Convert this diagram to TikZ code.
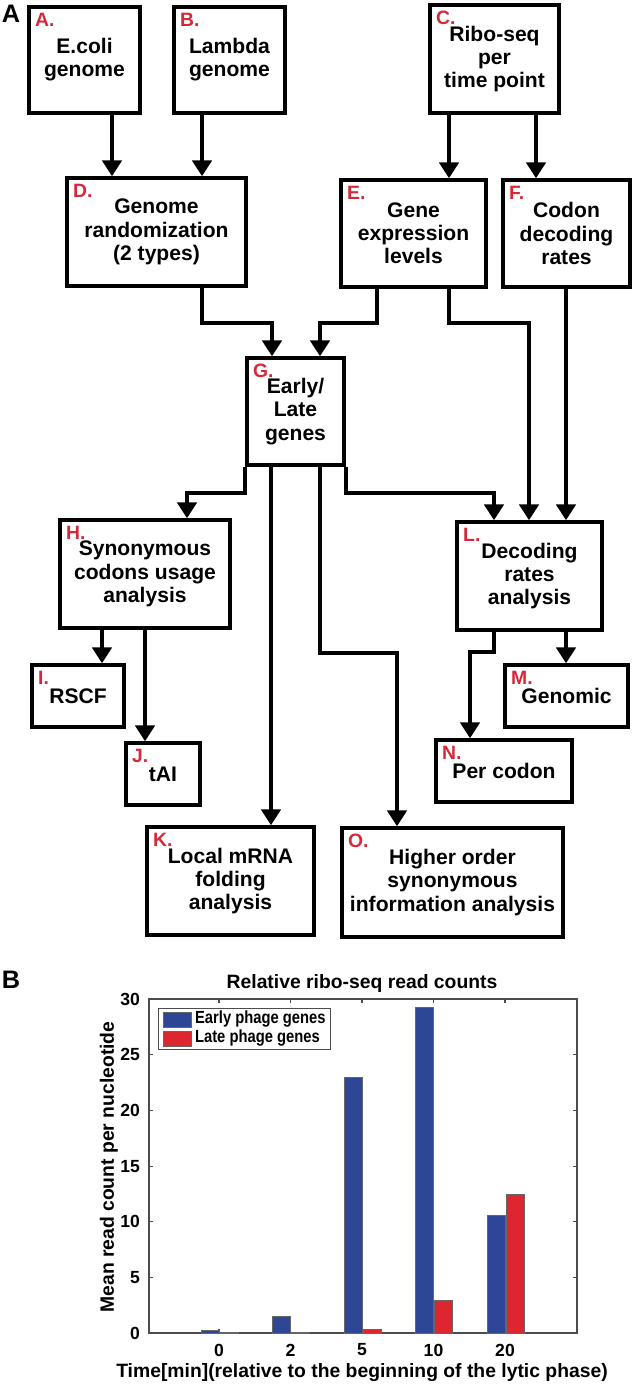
\documentclass[tikz,border=0pt]{standalone}
\usepackage{fontspec}
\setmainfont{Liberation Sans}
\newfontfamily\narrowfont{Liberation Sans}[FakeStretch=0.84]
\usepackage{xcolor}
\usetikzlibrary{arrows.meta, positioning, calc}
\definecolor{earlyblue}{RGB}{46,70,150}
\definecolor{latered}{RGB}{222,38,48}
\definecolor{tagred}{RGB}{214,40,57}
\begin{document}
\begin{tikzpicture}[
    x=0.02cm, y=-0.02cm,
    font=\fontsize{10}{13}\selectfont\bfseries,
    box/.style={draw, line width=2pt, inner sep=0pt, align=center,
      font=\fontsize{12}{13.2}\selectfont\bfseries},
    tag/.style={text=tagred, anchor=north west, xshift=1pt, yshift=-1pt,
      font=\fontsize{11}{13}\selectfont\bfseries},
    arr/.style={line width=2pt, -{Triangle[length=9pt, width=11pt]}}
  ]
  \useasboundingbox (0,0) rectangle (633,1385);

  % Panel A
  \node at (11,14) {\Large A};
  \node[box, minimum width=111*0.02cm, minimum height=106*0.02cm, label={[tag]north west:A.}] (A) at (84.5,60) {E.coli\\genome};
  \node[box, minimum width=111*0.02cm, minimum height=106*0.02cm, label={[tag]north west:B.}] (B) at (229.5,60) {Lambda\\genome};
  \node[box, minimum width=129*0.02cm, minimum height=108*0.02cm, label={[tag]north west:C.}] (C) at (494.5,59) {Ribo-seq\\per\\time point};
  \node[box, minimum width=179*0.02cm, minimum height=108*0.02cm, label={[tag]north west:D.}] (D) at (156.5,232) {Genome\\randomization\\(2 types)};
  \node[box, minimum width=145*0.02cm, minimum height=107*0.02cm, label={[tag]north west:E.}] (E) at (413.5,233.5) {Gene\\expression\\levels};
  \node[box, minimum width=127*0.02cm, minimum height=107*0.02cm, label={[tag]north west:F.}] (F) at (566.5,233.5) {Codon\\decoding\\rates};
  \node[box, minimum width=97*0.02cm, minimum height=107*0.02cm, label={[tag]north west:G.}] (G) at (295.5,411.5) {Early/\\Late\\genes};
  \node[box, minimum width=170*0.02cm, minimum height=108*0.02cm, label={[tag]north west:H.}] (H) at (145,574) {Synonymous\\codons usage\\analysis};
  \node[box, minimum width=145*0.02cm, minimum height=108*0.02cm, label={[tag]north west:L.}] (L) at (529.5,576) {Decoding\\rates\\analysis};
  \node[box, minimum width=92*0.02cm, minimum height=62*0.02cm, label={[tag]north west:I.}] (I) at (78,696) {RSCF};
  \node[box, minimum width=74*0.02cm, minimum height=62*0.02cm, label={[tag]north west:J.}] (J) at (163,774) {tAI};
  \node[box, minimum width=123*0.02cm, minimum height=62*0.02cm, label={[tag]north west:M.}] (M) at (566.5,696) {Genomic};
  \node[box, minimum width=136*0.02cm, minimum height=62*0.02cm, label={[tag]north west:N.}] (N) at (504,771) {Per codon};
  \node[box, minimum width=167*0.02cm, minimum height=108*0.02cm, label={[tag]north west:K.}] (K) at (230.5,881) {Local mRNA\\folding\\analysis};
  \node[box, minimum width=221*0.02cm, minimum height=109*0.02cm, label={[tag]north west:O.}] (O) at (452.5,882.5) {Higher order\\synonymous\\information analysis};

  % routing columns and rows
  \coordinate (cAD) at (112,0);  \coordinate (cBD) at (202,0);
  \coordinate (cCE) at (449,0);  \coordinate (cCF) at (536,0);
  \coordinate (cDG) at (272,0);  \coordinate (cEG) at (320,0);
  \coordinate (cEo) at (377,0);  \coordinate (cEL) at (529,0);
  \coordinate (cFL) at (566,0);  \coordinate (cGH) at (187,0);
  \coordinate (cGL) at (494,0);  \coordinate (cGK) at (271,0);
  \coordinate (cGO) at (397,0);  \coordinate (cHI) at (102,0);
  \coordinate (cHJ) at (145,0);  \coordinate (cLN) at (470,0);
  \coordinate (rDG) at (0,323);  \coordinate (rGH) at (0,493);
  \coordinate (rGO) at (0,653);  \coordinate (rLN) at (0,652);

  % Edges
  \draw[arr] (A.south -| cAD) -- (D.north -| cAD);
  \draw[arr] (B.south -| cBD) -- (D.north -| cBD);
  \draw[arr] (C.south -| cCE) -- (E.north -| cCE);
  \draw[arr] (C.south -| cCF) -- (F.north -| cCF);
  \draw[arr] (D.south -| cBD) |- (rDG -| cDG) -- (G.north -| cDG);
  \draw[arr] (E.south -| cEo) |- (rDG -| cEG) -- (G.north -| cEG);
  \draw[arr] (E.south -| cCE) |- (rDG -| cEL) -- (L.north -| cEL);
  \draw[arr] (F.south -| cFL) -- (L.north -| cFL);
  \draw[arr] (G.south west) |- (rGH -| cGH) -- (H.north -| cGH);
  \draw[arr] (G.south east) |- (rGH -| cGL) -- (L.north -| cGL);
  \draw[arr] (G.south -| cGK) -- (K.north -| cGK);
  \draw[arr] (G.south -| cEG) |- (rGO -| cGO) -- (O.north -| cGO);
  \draw[arr] (H.south -| cHI) -- (I.north -| cHI);
  \draw[arr] (H.south -| cHJ) -- (J.north -| cHJ);
  \draw[arr] (L.south -| cGL) |- (rLN -| cLN) -- (N.north -| cLN);
  \draw[arr] (L.south -| cFL) -- (M.north -| cFL);

  % Panel B
  \node at (11,980) {\Large B};
  \node[font=\fontsize{11}{13}\selectfont\bfseries] at (362,983) {Relative ribo-seq read counts};
  \draw[black!70, line width=0.6pt] (149,999) rectangle (577,1333);
  \foreach \v in {0,5,...,30} {
    \draw[black!70, line width=0.6pt] (149,1333-11.13*\v) -- ++(4,0);
    \draw[black!70, line width=0.6pt] (577,1333-11.13*\v) -- ++(-4,0);
    \node[anchor=east] at (146,1333-11.13*\v) {\v};
  }
  \foreach \t/\e/\l [count=\i] in {0/0.2/0.05, 2/1.5/0.05, 5/23/0.3, 10/29.3/2.9, 20/10.6/12.5} {
    \pgfmathsetmacro{\xt}{219+71.5*(\i-1)}
    \draw[black!70, line width=0.6pt] (\xt,1333) -- ++(0,-4);
    \draw[black!70, line width=0.6pt] (\xt,999) -- ++(0,4);
    \draw[fill=earlyblue, draw=black!60, line width=0.4pt] (\xt-18,1333) rectangle (\xt,1333-11.13*\e);
    \draw[fill=latered, draw=black!60, line width=0.4pt] (\xt+1,1333) rectangle (\xt+19,1333-11.13*\l);
    \node at (\xt,1350) {\t};
  }
  \node[rotate=90, font=\fontsize{11}{13}\selectfont\bfseries] at (109,1167) {Mean read count per nucleotide};
  \node[font=\fontsize{11}{13}\selectfont\bfseries] at (362,1373) {Time[min](relative to the beginning of the lytic phase)};

  % legend
  \draw[black!70, fill=white, line width=0.5pt] (158,1008) rectangle (330,1049);
  \draw[fill=earlyblue, draw=black!60] (163,1012) rectangle (191,1027);
  \draw[fill=latered, draw=black!60] (163,1031) rectangle (191,1046);
  \node[anchor=west, inner sep=1pt, font=\narrowfont\fontsize{10}{12}\selectfont\bfseries] at (193,1019) {Early phage genes};
  \node[anchor=west, inner sep=1pt, font=\narrowfont\fontsize{10}{12}\selectfont\bfseries] at (193,1038) {Late phage genes};
\end{tikzpicture}
\end{document}
